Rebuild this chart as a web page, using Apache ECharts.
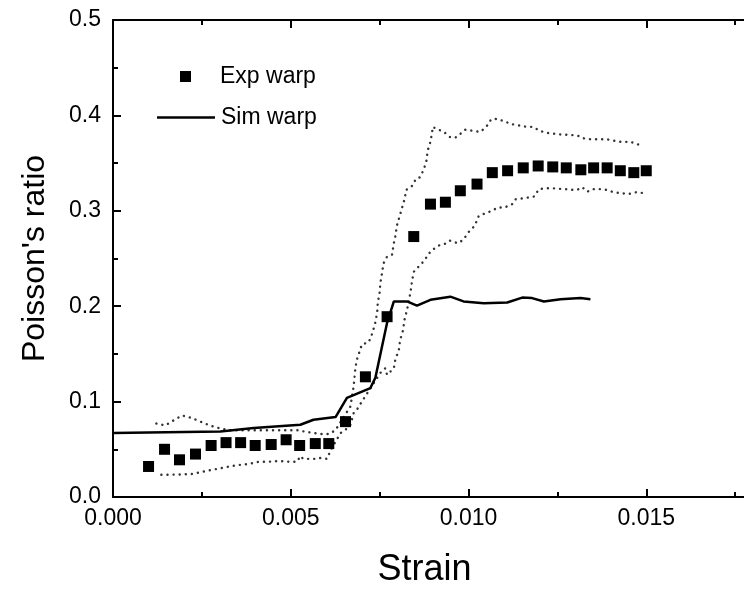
<!DOCTYPE html>
<html>
<head>
<meta charset="utf-8">
<script src="https://cdn.jsdelivr.net/npm/echarts@6/dist/echarts.min.js"></script>
<style>
html,body{margin:0;padding:0;background:#fff;}
#chart{width:744px;height:593px;}
</style>
</head>
<body>
<div id="chart"></div>
<script>
const FONT = "Arial, 'Liberation Sans', sans-serif";

const expStrain = [0.00100,0.00145,0.00187,0.00232,0.00276,0.00318,0.00359,0.00400,0.00445,0.00487,0.00525,0.00569,0.00607,0.00654,0.00710,0.00771,0.00846,0.00893,0.00935,0.00977,0.01024,0.01067,0.01110,0.01154,0.01196,0.01237,0.01275,0.01316,0.01352,0.01390,0.01427,0.01465,0.01500];
const expRatio  = [0.032,0.050,0.039,0.045,0.054,0.057,0.057,0.054,0.055,0.060,0.054,0.056,0.056,0.079,0.126,0.189,0.273,0.307,0.309,0.321,0.328,0.340,0.342,0.345,0.347,0.346,0.345,0.343,0.345,0.345,0.342,0.340,0.342];

const simStrain = [0.0000,0.00302,0.00396,0.00527,0.00564,0.00626,0.00658,0.00724,0.00738,0.00771,0.00790,0.00827,0.00855,0.00893,0.00949,0.00986,0.01043,0.01109,0.01151,0.01179,0.01212,0.01259,0.01315,0.01343];
const simRatio  = [0.067,0.0687,0.0723,0.0757,0.081,0.0838,0.104,0.1142,0.125,0.1826,0.205,0.205,0.2007,0.2067,0.210,0.205,0.2032,0.2039,0.209,0.2085,0.205,0.2074,0.2085,0.2074];

const upperStrain = [0.00122,0.00147,0.00169,0.00194,0.00220,0.00246,0.00272,0.00300,0.00326,0.00370,0.00410,0.00440,0.00470,0.00520,0.00537,0.00583,0.00607,0.00626,0.00635,0.00668,0.00677,0.00682,0.00687,0.00700,0.00719,0.00730,0.00738,0.00743,0.00745,0.00750,0.00752,0.00757,0.00761,0.00771,0.00785,0.00790,0.00794,0.00799,0.00806,0.00813,0.00820,0.00825,0.00841,0.00853,0.00863,0.00874,0.00882,0.00885,0.00893,0.00898,0.00899,0.00912,0.00930,0.00949,0.00963,0.00975,0.00991,0.01010,0.01033,0.01050,0.01064,0.01080,0.01104,0.01118,0.01135,0.01163,0.01181,0.01195,0.01214,0.01237,0.01259,0.01287,0.01306,0.01324,0.01343,0.01366,0.01388,0.01408,0.01432,0.01454,0.01482];
const upperRatio  = [0.077,0.075,0.080,0.0855,0.083,0.079,0.075,0.072,0.070,0.070,0.070,0.070,0.070,0.070,0.0687,0.066,0.066,0.070,0.0757,0.095,0.116,0.136,0.145,0.160,0.162,0.172,0.183,0.193,0.204,0.214,0.224,0.235,0.245,0.252,0.254,0.266,0.273,0.285,0.294,0.303,0.312,0.322,0.326,0.334,0.335,0.343,0.353,0.363,0.3725,0.383,0.388,0.3855,0.383,0.377,0.3767,0.380,0.385,0.384,0.3827,0.388,0.396,0.3963,0.3935,0.391,0.390,0.388,0.388,0.385,0.382,0.381,0.380,0.3795,0.379,0.376,0.375,0.375,0.375,0.3736,0.372,0.3725,0.369];

const lowerStrain = [0.00136,0.00161,0.00192,0.00219,0.00246,0.00272,0.00300,0.00328,0.00353,0.00382,0.00410,0.00438,0.00466,0.00494,0.00518,0.00527,0.00535,0.00569,0.00579,0.00602,0.00611,0.00626,0.00640,0.00654,0.00668,0.00677,0.00686,0.00700,0.00752,0.00766,0.00771,0.00790,0.00794,0.00804,0.00808,0.00816,0.00820,0.00827,0.00837,0.00841,0.00846,0.00860,0.00869,0.00874,0.00882,0.00886,0.00898,0.00916,0.00932,0.00947,0.00970,0.00985,0.01001,0.01017,0.01029,0.01048,0.01066,0.01082,0.01101,0.01123,0.01132,0.01151,0.01169,0.01185,0.01198,0.01216,0.01235,0.01254,0.01273,0.01292,0.01306,0.01320,0.01334,0.01351,0.01369,0.01388,0.01404,0.01427,0.01451,0.01472,0.01495];
const lowerRatio  = [0.0234,0.0234,0.0237,0.024,0.026,0.028,0.030,0.032,0.0335,0.0346,0.037,0.037,0.0377,0.037,0.037,0.043,0.040,0.040,0.041,0.040,0.048,0.058,0.067,0.0705,0.0757,0.088,0.0915,0.100,0.130,0.135,0.128,0.135,0.144,0.154,0.165,0.175,0.186,0.196,0.215,0.226,0.236,0.2416,0.245,0.2468,0.2514,0.254,0.259,0.2636,0.265,0.2688,0.266,0.2695,0.278,0.284,0.2947,0.2975,0.300,0.3034,0.3034,0.307,0.312,0.313,0.314,0.315,0.3227,0.3237,0.3237,0.323,0.3227,0.322,0.322,0.3247,0.320,0.3227,0.3227,0.322,0.320,0.3185,0.3177,0.3195,0.3185];

const zip = (a, b) => a.map((v, i) => [v, b[i]]);

const axisCommon = {
  type: 'value',
  splitLine: { show: false },
  axisLine: { show: true, lineStyle: { color: '#000', width: 2 } },
  axisTick: { show: true, inside: true, length: 8, lineStyle: { color: '#000', width: 2 } },
  minorTick: { show: true, splitNumber: 2, length: 5, lineStyle: { color: '#000', width: 2 } },
  minorSplitLine: { show: false }
};

const chart = echarts.init(document.getElementById('chart'), null, { renderer: 'canvas' });
chart.setOption({
  animation: false,
  backgroundColor: '#fff',
  textStyle: { fontFamily: FONT },
  grid: { left: 113, right: -80, top: 20, bottom: 96, containLabel: false, outerBoundsMode: 'none' },
  xAxis: [
    Object.assign({}, axisCommon, {
      position: 'bottom', min: 0, max: 0.02, interval: 0.005,
      axisLabel: { formatter: v => v.toFixed(3), fontSize: 23, color: '#000', margin: 10, fontFamily: FONT },
      name: 'Strain', nameLocation: 'middle', nameGap: 55,
      nameTextStyle: { fontSize: 36, color: '#000', fontFamily: FONT, padding: [0, 88, 0, 0] }
    }),
    Object.assign({}, axisCommon, {
      position: 'top', min: 0, max: 0.02, interval: 0.005,
      axisLabel: { show: false }
    })
  ],
  yAxis: [
    Object.assign({}, axisCommon, {
      position: 'left', min: 0, max: 0.5, interval: 0.1,
      axisLabel: { formatter: v => v.toFixed(1), fontSize: 23, color: '#000', margin: 12, fontFamily: FONT },
      name: "Poisson's ratio", nameLocation: 'middle', nameGap: 62, nameRotate: 90,
      nameTextStyle: { fontSize: 32, color: '#000', fontFamily: FONT }
    })
  ],
  legend: [
    {
      data: [{ name: 'Exp warp', icon: 'rect' }], left: 175, top: 60, orient: 'vertical',
      itemWidth: 11, itemHeight: 11,
      textStyle: { fontSize: 23, color: '#000', fontFamily: FONT, padding: [0, 0, 0, 24] }
    },
    {
      data: [{ name: 'Sim warp', icon: 'rect' }], left: 152, top: 101, orient: 'vertical',
      itemWidth: 58, itemHeight: 2.5,
      itemStyle: { color: '#000' },
      textStyle: { fontSize: 23, color: '#000', fontFamily: FONT, padding: [0, 0, 0, 1] }
    }
  ],
  series: [
    {
      name: 'Upper bound', type: 'line', data: zip(upperStrain, upperRatio),
      showSymbol: false, symbol: 'none', silent: true,
      lineStyle: { color: '#333', width: 2.4, type: [0.1, 6], cap: 'round' }, z: 1
    },
    {
      name: 'Lower bound', type: 'line', data: zip(lowerStrain, lowerRatio),
      showSymbol: false, symbol: 'none', silent: true,
      lineStyle: { color: '#333', width: 2.4, type: [0.1, 6], cap: 'round' }, z: 1
    },
    {
      name: 'Sim warp', type: 'line', data: zip(simStrain, simRatio),
      symbol: 'none', showSymbol: false,
      lineStyle: { color: '#000', width: 2.5 }, itemStyle: { color: '#000' }, z: 2
    },
    {
      name: 'Exp warp', type: 'scatter', data: zip(expStrain, expRatio),
      symbol: 'rect', symbolSize: 11,
      itemStyle: { color: '#000', opacity: 1 }, z: 3
    }
  ]
});
</script>
</body>
</html>
